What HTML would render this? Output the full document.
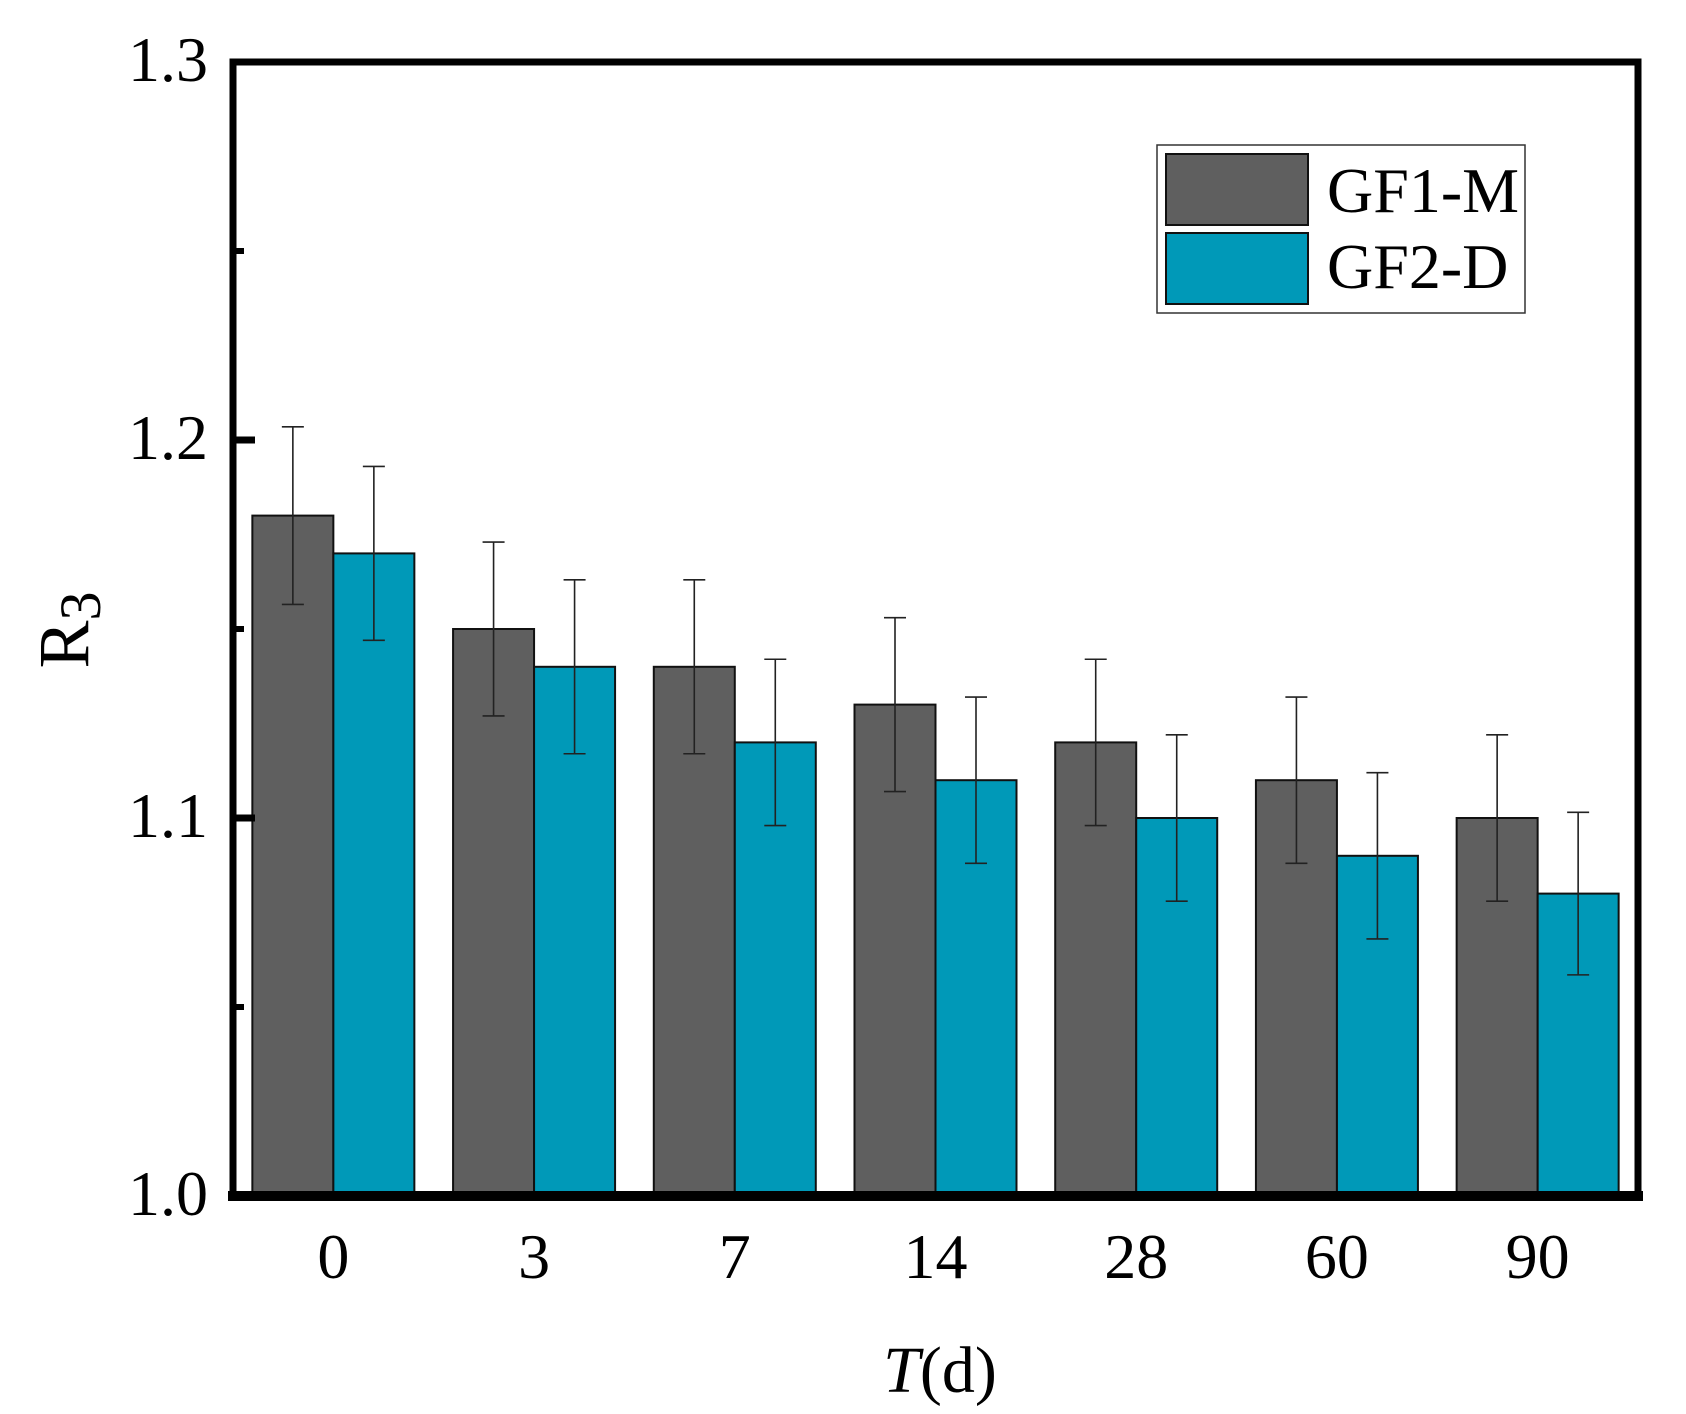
<!DOCTYPE html>
<html><head><meta charset="utf-8"><style>
html,body{margin:0;padding:0;background:#fff;}
svg{display:block;font-family:"Liberation Serif","Times New Roman",serif;}
</style></head><body>
<svg id="chart" width="1686" height="1414" viewBox="0 0 1686 1414">
<g id="bars"></g>
<g id="errs"></g>
<g id="axes"></g>
<g id="labels"></g>
<g>
  <rect x="1157" y="145" width="368" height="168" fill="#fff" stroke="#333" stroke-width="1.5"/>
  <rect x="1166" y="154" width="142" height="71" fill="#5f5f5f" stroke="#111" stroke-width="2"/>
  <rect x="1166" y="233" width="142" height="71" fill="#0099b8" stroke="#111" stroke-width="2"/>
  <text x="1327" y="212" font-size="64">GF1-M</text>
  <text x="1327" y="288" font-size="64">GF2-D</text>
</g>
</svg>
<script>
const categories = ["0","3","7","14","28","60","90"];
const gf1Values = [1.18,1.15,1.14,1.13,1.12,1.11,1.10];
const gf2Values = [1.17,1.14,1.12,1.11,1.10,1.09,1.08];
const gf1Errors = [0.0235,0.023,0.023,0.023,0.022,0.022,0.022];
const gf2Errors = [0.023,0.023,0.022,0.022,0.022,0.022,0.0215];
const yTicks = [1.0,1.1,1.2,1.3];
const yMinorTicks = [1.05,1.15,1.25];

const NS="http://www.w3.org/2000/svg";
const X0=233, X1=1638, Y0=1196, Yt=62, yMin=1.0, yMax=1.3;
const step=(X1-X0)/categories.length;
function yScale(v){return Y0-(v-yMin)/(yMax-yMin)*(Y0-Yt);}
function xCenter(i){return X0+step*(i+0.5);}
const barW=81;
function mk(tag,attrs,parent){const e=document.createElementNS(NS,tag);for(const k in attrs)e.setAttribute(k,attrs[k]);parent.appendChild(e);return e;}
const gb=document.getElementById('bars'), ge=document.getElementById('errs'), ga=document.getElementById('axes'), gl=document.getElementById('labels');

categories.forEach((c,i)=>{
  const cx=xCenter(i);
  [[gf1Values,gf1Errors,'#5f5f5f',cx-barW,'gf1-m'],[gf2Values,gf2Errors,'#0099b8',cx,'gf2-d']].forEach(([vals,errs,col,x,nm])=>{
    const y=yScale(vals[i]);
    const r=mk('rect',{x:x,y:y,width:barW,height:Y0-y,fill:col,stroke:'#111','stroke-width':2},gb);
    
    
    const bx=x+barW/2, yt=yScale(vals[i]+errs[i]), yb=yScale(vals[i]-errs[i]);
    const p=mk('path',{d:`M${bx},${yt}V${yb}M${bx-11},${yt}H${bx+11}M${bx-11},${yb}H${bx+11}`,stroke:'#222','stroke-width':1.6,fill:'none'},ge);
    
    
  });
  const t=mk('text',{x:cx,y:1278,'font-size':64,'text-anchor':'middle'},gl);
  t.textContent=c;
  
  
});

const frame=mk('path',{d:`M${X0},${Y0}V${Yt}H${X1}V${Y0}`,stroke:'#000','stroke-width':7,fill:'none'},ga);


const xa=mk('line',{x1:228,y1:Y0,x2:1643,y2:Y0,stroke:'#000','stroke-width':10},ga);



yTicks.forEach(v=>{
  const y=yScale(v);
  const tk=mk('line',{x1:X0,y1:y,x2:255,y2:y,stroke:'#000','stroke-width':7},ga);
  
  
  const t=mk('text',{x:208,y:y+19,'font-size':64,'text-anchor':'end'},gl);
  t.textContent=v.toFixed(1);
  
  
});
yMinorTicks.forEach(v=>{
  const y=yScale(v);
  const tk=mk('line',{x1:X0,y1:y,x2:244,y2:y,stroke:'#000','stroke-width':6},ga);
  
  
});

const xt=mk('text',{x:940,y:1392,'font-size':66,'text-anchor':'middle'},gl);
xt.innerHTML='<tspan font-style="italic">T</tspan>(d)';


const yt=mk('text',{x:0,y:0,'font-size':72,'text-anchor':'middle',transform:'translate(88,630) rotate(-90)'},gl);
yt.innerHTML='R<tspan font-size="58" dy="12">3</tspan>';


</script>
</body></html>
